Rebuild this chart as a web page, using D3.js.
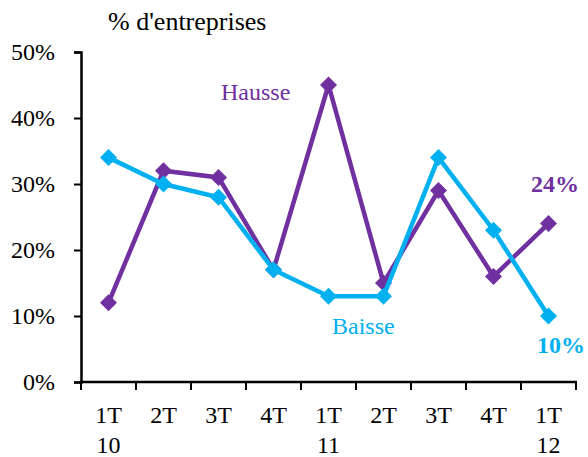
<!DOCTYPE html>
<html><head><meta charset="utf-8">
<script src="https://cdn.jsdelivr.net/npm/d3@7"></script>
<style>body{margin:0;background:#fff}svg{display:block}</style>
</head><body>
<script>
const quarters = ["1T","2T","3T","4T","1T","2T","3T","4T","1T"];
const years = ["10","","","","11","","","","12"];
const hausse = [12,32,31,17,45,15,29,16,24];
const baisse = [34,30,28,17,13,13,34,23,10];
const yTicks = [0,10,20,30,40,50];
const purple = "#7030A0", cyan = "#00B0F0";
const FONT = "Liberation Serif";

const W=588,H=457;
const svg=d3.select("body").append("svg").attr("width",W).attr("height",H);
const x=d3.scaleBand().domain(d3.range(quarters.length)).range([81,576]);
const y=d3.scaleLinear().domain([0,50]).range([382,52]);

// y axis
const ya=svg.append("g").attr("transform","translate(81,0)")
  .call(d3.axisLeft(y).tickValues(yTicks).tickSize(7).tickFormat(d=>d+"%"));
ya.attr("font-family",FONT).attr("font-size",24);
ya.select(".domain").attr("stroke","#000").attr("stroke-width",2.5);
ya.selectAll(".tick line").attr("stroke","#000").attr("stroke-width",2);
ya.selectAll(".tick text").attr("font-family",FONT).attr("font-size",24).attr("fill","#000").attr("x",-26).attr("dy","0.32em");

// x axis
const xa=svg.append("g").attr("transform","translate(0,382)");
xa.append("line").attr("x1",80).attr("x2",577).attr("stroke","#000").attr("stroke-width",2.5);
const bounds=d3.range(quarters.length+1).map(i=>i<quarters.length?x(i):x(quarters.length-1)+x.bandwidth());
xa.selectAll("line.t").data(bounds).enter().append("line").attr("class","t")
  .attr("x1",d=>d).attr("x2",d=>d).attr("y1",0).attr("y2",8).attr("stroke","#000").attr("stroke-width",2);
xa.selectAll("text.q").data(quarters).enter().append("text").attr("class","q")
  .attr("x",(d,i)=>x(i)+x.bandwidth()/2).attr("y",41).attr("text-anchor","middle")
  .attr("font-family",FONT).attr("font-size",24).text(d=>d);
xa.selectAll("text.yr").data(years).enter().append("text").attr("class","yr")
  .attr("x",(d,i)=>x(i)+x.bandwidth()/2).attr("y",71).attr("text-anchor","middle")
  .attr("font-family",FONT).attr("font-size",24).text(d=>d);

// title
svg.append("text").attr("x",108).attr("y",30).attr("font-family",FONT).attr("font-size",26).text("% d'entreprises");

const cx=i=>x(i)+x.bandwidth()/2;
const line=d3.line().x((d,i)=>cx(i)).y(d=>y(d));
const diamond="M0,-8.5L8.5,0L0,8.5L-8.5,0Z";
function series(data,color){
  svg.append("path").datum(data).attr("d",line).attr("fill","none")
    .attr("stroke",color).attr("stroke-width",4.5).attr("stroke-linejoin","miter");
  svg.selectAll(null).data(data).enter().append("path").attr("d",diamond)
    .attr("transform",(d,i)=>`translate(${cx(i)},${y(d)})`).attr("fill",color);
}
series(hausse,purple);
series(baisse,cyan);

svg.append("text").attr("x",221).attr("y",100).attr("font-family",FONT).attr("font-size",24).attr("fill",purple).text("Hausse");
svg.append("text").attr("x",332).attr("y",334).attr("font-family",FONT).attr("font-size",24).attr("fill",cyan).text("Baisse");
svg.append("text").attr("x",531).attr("y",192).attr("font-family",FONT).attr("font-size",24).attr("font-weight","bold").attr("fill",purple).text(hausse[hausse.length-1]+"%");
svg.append("text").attr("x",537).attr("y",353).attr("font-family",FONT).attr("font-size",24).attr("font-weight","bold").attr("fill",cyan).text(baisse[baisse.length-1]+"%");
</script>
</body></html>
